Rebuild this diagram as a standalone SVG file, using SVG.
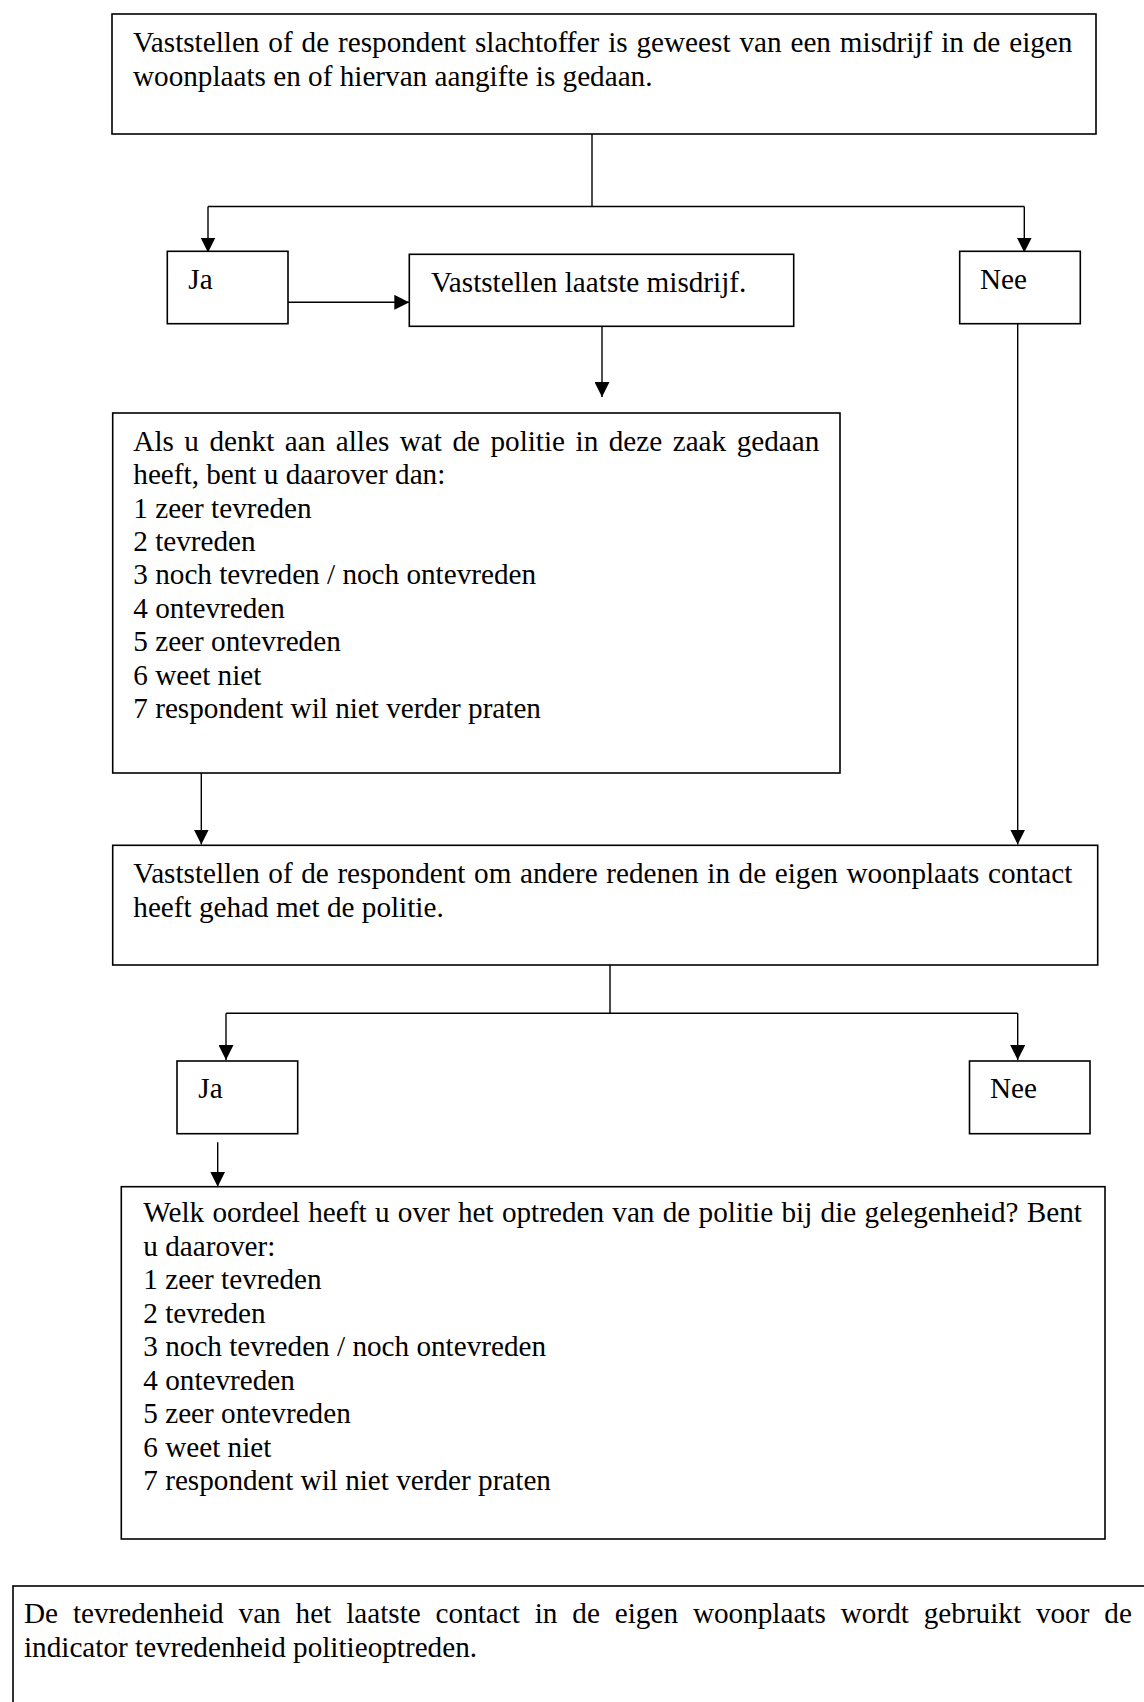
<svg xmlns="http://www.w3.org/2000/svg" width="1144" height="1702" viewBox="0 0 1144 1702">
<style>
.box{fill:#fff;stroke:#000;stroke-width:1.6}
.t{font-family:"Liberation Serif","Times New Roman",serif;font-size:29.2px;fill:#000}
.ln{fill:none;stroke:#000;stroke-width:1.4}
</style>
<defs>
<marker id="ah" markerUnits="userSpaceOnUse" markerWidth="15" markerHeight="15" refX="15" refY="7.5" orient="auto">
<path d="M0,0 L15,7.5 L0,15 Z" fill="#000"/>
</marker>
</defs>
<rect width="1144" height="1702" fill="#fff"/>
<g id="connectors">
<path class="ln" d="M592,134 V206.5 M208,206.5 H1024.3"/>
<path class="ln" d="M208,206.5 V252.5" marker-end="url(#ah)"/>
<path class="ln" d="M1024.3,206.5 V252.5" marker-end="url(#ah)"/>
<path class="ln" d="M288,302.3 H409.3" marker-end="url(#ah)"/>
<path class="ln" d="M602,326.3 V397" marker-end="url(#ah)"/>
<path class="ln" d="M1017.7,321 V844.5" marker-end="url(#ah)"/>
<path class="ln" d="M201.3,773 V844.5" marker-end="url(#ah)"/>
<path class="ln" d="M610,965 V1013.3 M226,1013.3 H1017.7"/>
<path class="ln" d="M226,1013.3 V1060" marker-end="url(#ah)"/>
<path class="ln" d="M1017.7,1013.3 V1060" marker-end="url(#ah)"/>
<path class="ln" d="M217.7,1142.3 V1186.7" marker-end="url(#ah)"/>
</g>
<g id="n1">
<rect class="box" x="112" y="14" width="984" height="120"/>
<text class="t" x="133" y="51.7" word-spacing="1.6">Vaststellen of de respondent slachtoffer is geweest van een misdrijf in de eigen</text>
<text class="t" x="133" y="86">woonplaats en of hiervan aangifte is gedaan.</text>
</g>
<g id="n2">
<rect class="box" x="167.3" y="251.3" width="120.7" height="72.4"/>
<text class="t" x="188.3" y="289.3">Ja</text>
</g>
<g id="n3">
<rect class="box" x="409.3" y="254.3" width="384.4" height="72"/>
<text class="t" x="431" y="291.5">Vaststellen laatste misdrijf.</text>
</g>
<g id="n4">
<rect class="box" x="959.7" y="251.3" width="120.6" height="72.4"/>
<text class="t" x="980" y="289.3">Nee</text>
</g>
<g id="n5">
<rect class="box" x="112.7" y="413" width="727.3" height="360"/>
<text class="t" x="133.3" y="450.7" word-spacing="3.2">Als u denkt aan alles wat de politie in deze zaak gedaan</text>
<text class="t" x="133.3" y="484.1">heeft, bent u daarover dan:</text>
<text class="t" x="133.3" y="517.5">1 zeer tevreden</text>
<text class="t" x="133.3" y="550.9">2 tevreden</text>
<text class="t" x="133.3" y="584.3">3 noch tevreden / noch ontevreden</text>
<text class="t" x="133.3" y="617.7">4 ontevreden</text>
<text class="t" x="133.3" y="651.1">5 zeer ontevreden</text>
<text class="t" x="133.3" y="684.5">6 weet niet</text>
<text class="t" x="133.3" y="717.9">7 respondent wil niet verder praten</text>
</g>
<g id="n6">
<rect class="box" x="112.7" y="845.3" width="985" height="119.7"/>
<text class="t" x="133.3" y="882.7" word-spacing="1.3">Vaststellen of de respondent om andere redenen in de eigen woonplaats contact</text>
<text class="t" x="133.3" y="916.7">heeft gehad met de politie.</text>
</g>
<g id="n7">
<rect class="box" x="177" y="1061" width="120.7" height="72.7"/>
<text class="t" x="198.3" y="1098.3">Ja</text>
</g>
<g id="n8">
<rect class="box" x="969.5" y="1061" width="120.5" height="72.7"/>
<text class="t" x="990" y="1098.3">Nee</text>
</g>
<g id="n9">
<rect class="box" x="121.3" y="1186.7" width="983.7" height="352.3"/>
<text class="t" x="143.3" y="1222" word-spacing="1">Welk oordeel heeft u over het optreden van de politie bij die gelegenheid? Bent</text>
<text class="t" x="143.3" y="1255.5">u daarover:</text>
<text class="t" x="143.3" y="1289">1 zeer tevreden</text>
<text class="t" x="143.3" y="1322.5">2 tevreden</text>
<text class="t" x="143.3" y="1356">3 noch tevreden / noch ontevreden</text>
<text class="t" x="143.3" y="1389.5">4 ontevreden</text>
<text class="t" x="143.3" y="1423">5 zeer ontevreden</text>
<text class="t" x="143.3" y="1456.5">6 weet niet</text>
<text class="t" x="143.3" y="1490">7 respondent wil niet verder praten</text>
</g>
<g id="n10">
<rect class="box" x="13" y="1586" width="1145" height="140"/>
<text class="t" x="24" y="1623" word-spacing="7.6">De tevredenheid van het laatste contact in de eigen woonplaats wordt gebruikt voor de</text>
<text class="t" x="24" y="1657">indicator tevredenheid politieoptreden.</text>
</g>
</svg>
